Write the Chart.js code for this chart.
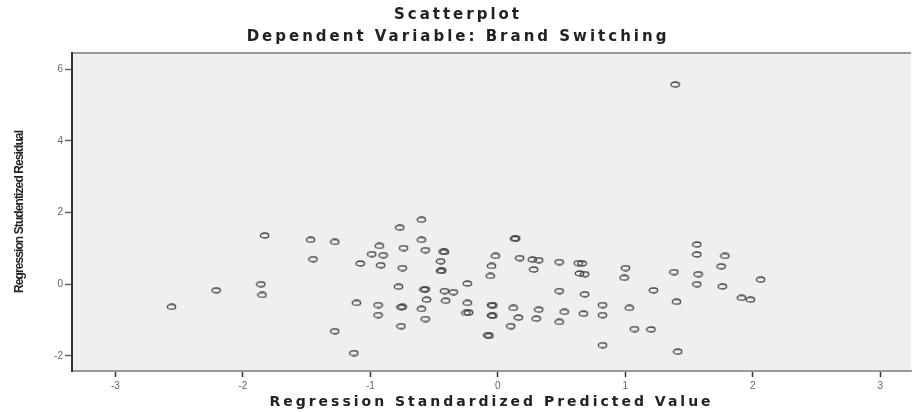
<!DOCTYPE html>
<html>
<head>
<meta charset="utf-8">
<title>Scatterplot</title>
<script src="https://cdn.jsdelivr.net/npm/chart.js@4/dist/chart.umd.min.js"></script>
<style>
    body { margin: 0; background: #fff; }
</style>
</head>
<body>
<canvas id="grafico" width="916" height="412"></canvas>
<script>
// valores (previsto padronizado x residuo studentizado)
const valoresPrevistos = [-2.56, -2.21, -1.86, -1.85, -1.83, -1.47, -1.45, -1.28, -1.28, -1.13,
    -1.11, -1.08, -0.99, -0.93, -0.92, -0.90, -0.94, -0.94, -0.77, -0.74,
    -0.75, -0.78, -0.76, -0.75, -0.76, -0.60, -0.60, -0.57, -0.58, -0.57,
    -0.56, -0.60, -0.57, -0.42, -0.43, -0.45, -0.45, -0.44, -0.42, -0.41,
    -0.35, -0.24, -0.24, -0.25, -0.23, 0.13, 0.14, -0.02, -0.05, -0.06,
    -0.05, -0.04, -0.04, -0.05, -0.08, -0.07, 0.17, 0.27, 0.32, 0.28,
    0.12, 0.16, 0.10, 0.32, 0.30, 0.48, 0.48, 0.52, 0.48, 0.63,
    0.66, 0.64, 0.68, 0.68, 0.67, 0.82, 0.82, 0.82, 1.00, 0.99,
    1.03, 1.07, 1.20, 1.22, 1.38, 1.40, 1.41, 1.39, 1.56, 1.56,
    1.57, 1.56, 1.78, 1.75, 1.76, 2.06, 1.91, 1.98]

const residuos = [-0.63, -0.17, 0.00, -0.30, 1.36, 1.24, 0.70, 1.18, -1.31, -1.92,
    -0.52, 0.58, 0.84, 1.07, 0.53, 0.81, -0.58, -0.86, 1.58, 1.01,
    0.45, -0.07, -0.64, -0.63, -1.17, 1.80, 1.24, 0.95, -0.15, -0.14,
    -0.43, -0.69, -0.97, 0.90, 0.91, 0.64, 0.37, 0.38, -0.19, -0.46,
    -0.22, 0.02, -0.52, -0.80, -0.79, 1.27, 1.28, 0.79, 0.51, 0.23,
    -0.58, -0.59, -0.88, -0.87, -1.42, -1.44, 0.73, 0.69, 0.67, 0.41,
    -0.66, -0.93, -1.17, -0.71, -0.96, 0.62, -0.19, -0.77, -1.05, 0.59,
    0.58, 0.30, 0.28, -0.28, -0.82, -0.58, -0.86, -1.70, 0.45, 0.18,
    -0.66, -1.25, -1.26, -0.17, 0.34, -0.49, -1.88, 5.57, 1.11, 0.83,
    0.28, 0.00, 0.79, 0.50, -0.06, 0.13, -0.38, -0.43]

const ticksX = [-3, -2, -1, 0, 1, 2, 3]
const ticksY = [-2, 0, 2, 4, 6]

const pontos = valoresPrevistos.map((v, i) => ({ x: v, y: residuos[i] }))

/*
* marcador oval vazado, como no grafico do SPSS
*/
const marcador = document.createElement('canvas')
marcador.width = 11
marcador.height = 7
const mctx = marcador.getContext('2d')
mctx.strokeStyle = '#444'
mctx.lineWidth = 1.3
mctx.beginPath()
mctx.ellipse(5.5, 3.5, 4.2, 2.5, 0, 0, Math.PI * 2)
mctx.stroke()

// troca o espacamento das letras so durante uma funcao de desenho
const comEspaco = (obj, nome, espaco) => {
    if (!obj || obj['_esp_' + nome]) return
    const original = obj[nome]
    obj[nome] = function (...args) {
        const c = this.ctx
        c.save()
        c.letterSpacing = espaco
        original.apply(this, args)
        c.restore()
    }
    obj['_esp_' + nome] = true
}

// fundo cinza da area do grafico e linha de cima
const fundoArea = {
    id: 'fundoArea',
    beforeDraw(chart) {
        const { ctx, chartArea } = chart
        ctx.save()
        ctx.fillStyle = '#efefef'
        ctx.fillRect(chartArea.left, chartArea.top, chartArea.right - chartArea.left, chartArea.bottom - chartArea.top)
        ctx.strokeStyle = '#9a9a9a'
        ctx.lineWidth = 2
        ctx.beginPath()
        ctx.moveTo(chartArea.left, chartArea.top)
        ctx.lineTo(chartArea.right, chartArea.top)
        ctx.stroke()
        ctx.restore()

        // os titulos do SPSS saem bem espacados
        ctx.letterSpacing = '3px'
        comEspaco(chart.scales.y, 'drawTitle', '-0.9px')
        comEspaco(chart.scales.y, 'drawLabels', '0px')
        comEspaco(chart.scales.x, 'drawLabels', '0px')
    }
}

const ctx = document.getElementById('grafico').getContext('2d')

const meuGrafico = new Chart(ctx, {
    type: 'scatter',
    data: {
        datasets: [{
            label: 'Residuos',
            data: pontos,
            pointStyle: marcador,
            pointRadius: 4,
            pointHoverRadius: 4
        }]
    },
    options: {
        responsive: false,
        animation: false,
        layout: { padding: 0 },
        plugins: {
            legend: { display: false },
            tooltip: { enabled: false },
            title: {
                display: true,
                text: 'Scatterplot',
                color: '#222',
                font: { family: 'DejaVu Sans', size: 15, weight: 'bold' },
                padding: { top: 6, bottom: 1 }
            },
            subtitle: {
                display: true,
                text: 'Dependent Variable: Brand Switching',
                color: '#222',
                font: { family: 'DejaVu Sans', size: 15, weight: 'bold' },
                padding: { top: 3, bottom: 7 }
            }
        },
        scales: {
            x: {
                type: 'linear',
                min: -3.34,
                max: 3.24,
                afterBuildTicks: (s) => { s.ticks = ticksX.map(v => ({ value: v })) },
                afterFit: (s) => { s.height = 41 },
                grid: { drawOnChartArea: false, drawTicks: true, tickLength: 6, tickColor: '#333', tickWidth: 1.5 },
                border: { display: true, color: '#999', width: 2 },
                ticks: { color: '#666', padding: 3, font: { family: 'Liberation Sans', size: 10 } },
                title: {
                    display: true,
                    text: 'Regression Standardized Predicted Value',
                    color: '#222',
                    font: { family: 'DejaVu Sans', size: 14, weight: 'bold' },
                    padding: { top: 0, bottom: 1 }
                }
            },
            y: {
                type: 'linear',
                min: -2.42,
                max: 6.45,
                afterBuildTicks: (s) => { s.ticks = ticksY.map(v => ({ value: v })) },
                afterFit: (s) => { s.width = 72 },
                grid: { drawOnChartArea: false, drawTicks: true, tickLength: 7, tickColor: '#666', tickWidth: 1.5 },
                border: { display: true, color: '#333', width: 2 },
                ticks: { color: '#666', padding: 2, font: { family: 'Liberation Sans', size: 10 } },
                title: {
                    display: true,
                    text: 'Regression Studentized Residual',
                    color: '#222',
                    font: { family: 'Liberation Sans', size: 12, weight: 'bold' },
                    padding: { top: 12, bottom: 0 }
                }
            }
        }
    },
    plugins: [fundoArea]
})
</script>
</body>
</html>
